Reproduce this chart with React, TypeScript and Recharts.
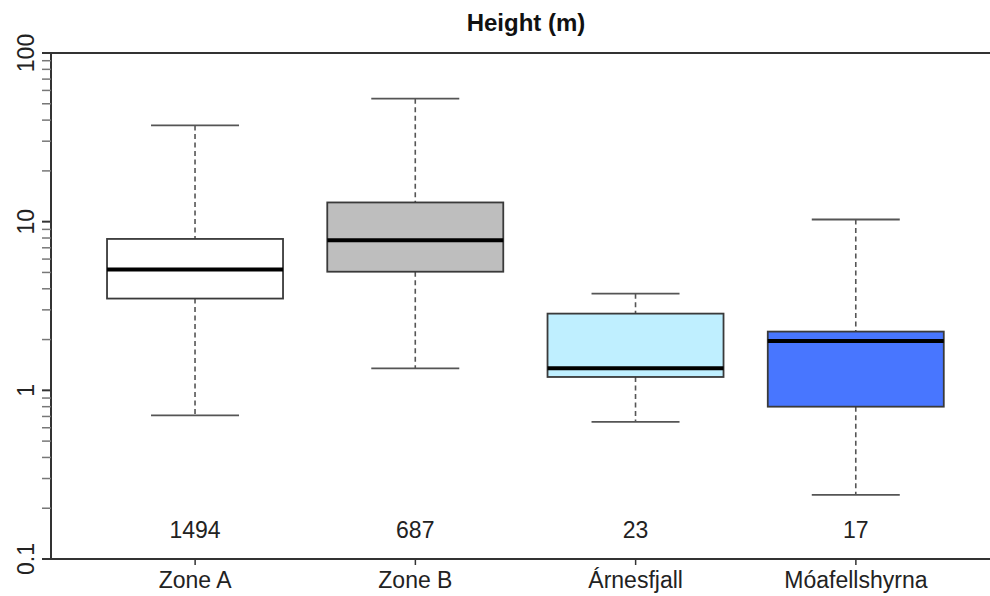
import React from 'react';
import { ComposedChart, Bar, XAxis, YAxis, ReferenceLine } from 'recharts';

// ---- data ----
const categories = ['Zone A', 'Zone B', 'Árnesfjall', 'Móafellshyrna'];
const whiskerLow = [0.71, 1.35, 0.65, 0.24];
const quartile1 = [3.5, 5.05, 1.2, 0.8];
const medians = [5.2, 7.75, 1.35, 1.96];
const quartile3 = [7.9, 13.0, 2.85, 2.23];
const whiskerHigh = [37.2, 53.6, 3.74, 10.3];
const counts = [1494, 687, 23, 17];
const boxColors = ['#FFFFFF', '#BEBEBE', '#BFEFFF', '#4876FF'];
const majorTicks = [0.1, 1, 10, 100];
const minorTicks = [
  0.2, 0.3, 0.4, 0.5, 0.6, 0.7, 0.8, 0.9,
  2, 3, 4, 5, 6, 7, 8, 9,
  20, 30, 40, 50, 60, 70, 80, 90,
];
const countLabelAt = 0.15;
const title = 'Height (m)';

const allTicks = [...majorTicks, ...minorTicks].sort((a, b) => a - b);

const data = categories.map((name, i) => ({
  name,
  range: [whiskerLow[i], whiskerHigh[i]],
  low: whiskerLow[i],
  q1: quartile1[i],
  med: medians[i],
  q3: quartile3[i],
  high: whiskerHigh[i],
  n: counts[i],
  fill: boxColors[i],
}));

const FONT = '"Liberation Sans", Arial, Helvetica, sans-serif';
const TICK_SIZE = 9;
const TICK_MARGIN = 8;

const BoxShape = (props: any) => {
  const { x, y, width, height, payload } = props;
  if (!payload) return null;
  const top = height >= 0 ? y : y + height;
  const h = Math.abs(height);
  const lo = Math.log10(payload.low);
  const hi = Math.log10(payload.high);
  const k = h / (hi - lo);
  const pos = (v: number) => top + (hi - Math.log10(v)) * k;
  const cx = x + width / 2;
  const capHalf = width / 4;
  const yHigh = pos(payload.high);
  const yLow = pos(payload.low);
  const yQ1 = pos(payload.q1);
  const yQ3 = pos(payload.q3);
  const yMed = pos(payload.med);
  const yCount = pos(countLabelAt);
  return (
    <g>
      <line x1={cx} x2={cx} y1={yHigh} y2={yQ3} stroke="#555" strokeWidth={1.6} strokeDasharray="5 3.5" />
      <line x1={cx} x2={cx} y1={yQ1} y2={yLow} stroke="#555" strokeWidth={1.6} strokeDasharray="5 3.5" />
      <line x1={cx - capHalf} x2={cx + capHalf} y1={yHigh} y2={yHigh} stroke="#555" strokeWidth={1.8} />
      <line x1={cx - capHalf} x2={cx + capHalf} y1={yLow} y2={yLow} stroke="#555" strokeWidth={1.8} />
      <rect x={x} y={yQ3} width={width} height={yQ1 - yQ3} fill={payload.fill} stroke="#3a3a3a" strokeWidth={1.8} />
      <line x1={x} x2={x + width} y1={yMed} y2={yMed} stroke="#000" strokeWidth={4} />
      <text x={cx} y={yCount} dy="0.36em" textAnchor="middle" fontSize={23} fill="#222" fontFamily={FONT}>
        {String(payload.n)}
      </text>
    </g>
  );
};

const YTick = (props: any) => {
  const { x, y, payload } = props;
  const v = payload.value;
  const major = majorTicks.includes(v);
  const axisX = x + TICK_MARGIN + TICK_SIZE;
  return (
    <g>
      <line x1={axisX - TICK_SIZE} x2={axisX} y1={y} y2={y} stroke={major ? '#333' : '#777'} strokeWidth={major ? 2 : 1.5} />
      {major && (
        <text x={x} y={y} transform={`rotate(-90 ${x} ${y})`} textAnchor="middle" fontSize={23} fill="#222" fontFamily={FONT}>
          {String(v)}
        </text>
      )}
    </g>
  );
};

const XTick = (props: any) => {
  const { x, y, payload } = props;
  return (
    <text x={x} y={y} dy="0.71em" textAnchor="middle" fontSize={23} fill="#222" fontFamily={FONT}>
      {payload.value}
    </text>
  );
};

export default function App() {
  return (
    <div style={{ position: 'absolute', left: 0, top: 0, width: 990, height: 596, overflow: 'hidden', background: '#fff' }}>
      <div
        style={{
          position: 'absolute',
          left: 0,
          width: 1052,
          top: 11,
          textAlign: 'center',
          fontFamily: FONT,
          fontWeight: 'bold',
          fontSize: 24,
          lineHeight: '24px',
          color: '#111',
        }}
      >
        {title}
      </div>
      <ComposedChart
        width={1010}
        height={596}
        data={data}
        margin={{ top: 53, right: 6, bottom: 0, left: 0 }}
        barCategoryGap="10%"
      >
        <XAxis
          dataKey="name"
          type="category"
          height={37}
          padding={{ left: 34, right: 38 }}
          axisLine={{ stroke: '#333', strokeWidth: 2 }}
          tickLine={{ stroke: '#333', strokeWidth: 1.5 }}
          tickSize={6}
          tickMargin={7}
          tick={<XTick />}
          interval={0}
        />
        <YAxis
          type="number"
          scale="log"
          domain={[0.1, 100]}
          ticks={allTicks}
          interval={0}
          allowDataOverflow
          width={51}
          axisLine={{ stroke: '#333', strokeWidth: 2 }}
          tickLine={false}
          tickSize={TICK_SIZE}
          tickMargin={TICK_MARGIN}
          tick={<YTick />}
        />
        <ReferenceLine y={100} stroke="#333" strokeWidth={2} />
        <Bar dataKey="range" isAnimationActive={false} shape={<BoxShape />} />
      </ComposedChart>
    </div>
  );
}
